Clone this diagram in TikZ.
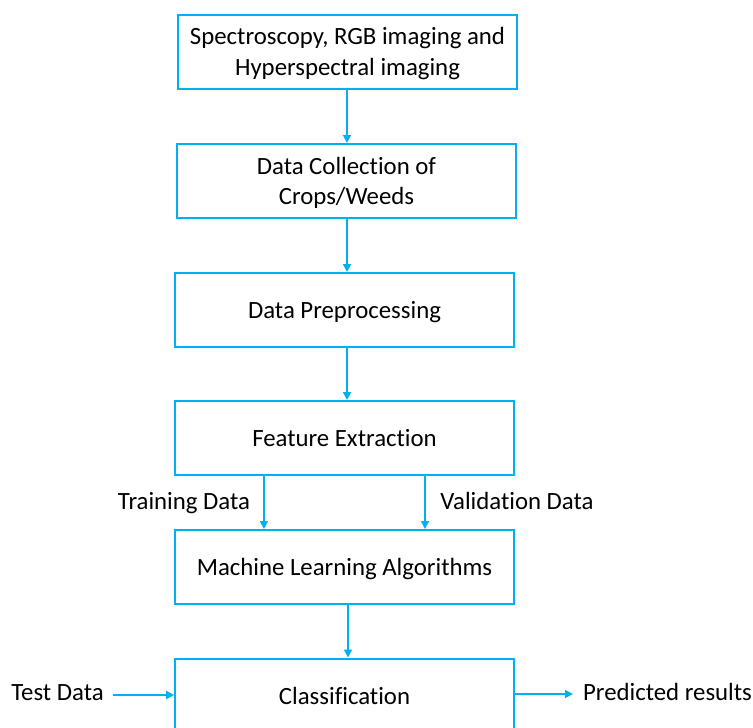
\documentclass[tikz,border=0pt]{standalone}
\usepackage{fontspec}
\setmainfont{Carlito}[Ligatures={NoCommon}]
\usetikzlibrary{arrows.meta}
\definecolor{flowblue}{RGB}{0,176,240}
\begin{document}
\begin{tikzpicture}[x=0.75pt,y=-0.75pt,
  font=\fontsize{18.6}{22.7}\selectfont,
  stagebox/.style={draw=flowblue,line width=1.5pt,fill=white,
    minimum width=254pt,minimum height=55.5pt,align=center,inner sep=0pt,
    text height=12.8pt,text depth=0pt},
  twoline/.style={stagebox,text height=35.5pt},
  flow/.style={draw=flowblue,line width=1.3pt,
    -{Triangle[length=6pt,width=6pt]}},
  tag/.style={inner sep=0pt,anchor=base}]
\useasboundingbox (0,0) rectangle (753,728);
\clip (0,0) rectangle (753,728);

% processing stages
\node[twoline]  (src)  at (347.5,51.5) {Spectroscopy, RGB imaging and\\Hyperspectral imaging};
\node[twoline]  (coll) at (346.5,181)  {Data Collection of\\Crops/Weeds};
\node[stagebox] (prep) at (344.5,310)  {Data Preprocessing};
\node[stagebox] (feat) at (344.5,438)  {Feature Extraction};
\node[stagebox] (ml)   at (344.5,567)  {Machine Learning Algorithms};
\node[stagebox] (cls)  at (344.5,695.5) {Classification};

% side labels
\node[tag] (train) at (184,509.5) {Training Data};
\node[tag] (valid) at (517,509.5) {Validation Data};
\node[tag] (test)  at (57.5,700) {Test Data};
\node[tag] (pred)  at (667.5,700) {Predicted results};
\coordinate (testout) at (113,695);
\coordinate (predin)  at (573,694);

% vertical flow
\draw[flow] ([xshift=-0.4pt]src.south) -- ([xshift=-0.4pt]src.south |- coll.north);
\draw[flow] ([xshift=0.4pt]coll.south) -- ([xshift=0.4pt]coll.south |- prep.north);
\draw[flow] ([xshift=1.9pt]prep.south) -- ([xshift=1.9pt]prep.south |- feat.north);
\draw[flow] ([xshift=-60.4pt]feat.south) -- ([xshift=-60.4pt]feat.south |- ml.north);
\draw[flow] ([xshift=60.4pt]feat.south) -- ([xshift=60.4pt]feat.south |- ml.north);
\draw[flow] ([xshift=2.6pt]ml.south) -- ([xshift=2.6pt]ml.south |- cls.north);

% test data in, predictions out
\draw[flow] (testout) -- (testout -| cls.west);
\draw[flow] (cls.east |- predin) -- (predin);
\end{tikzpicture}
\end{document}
